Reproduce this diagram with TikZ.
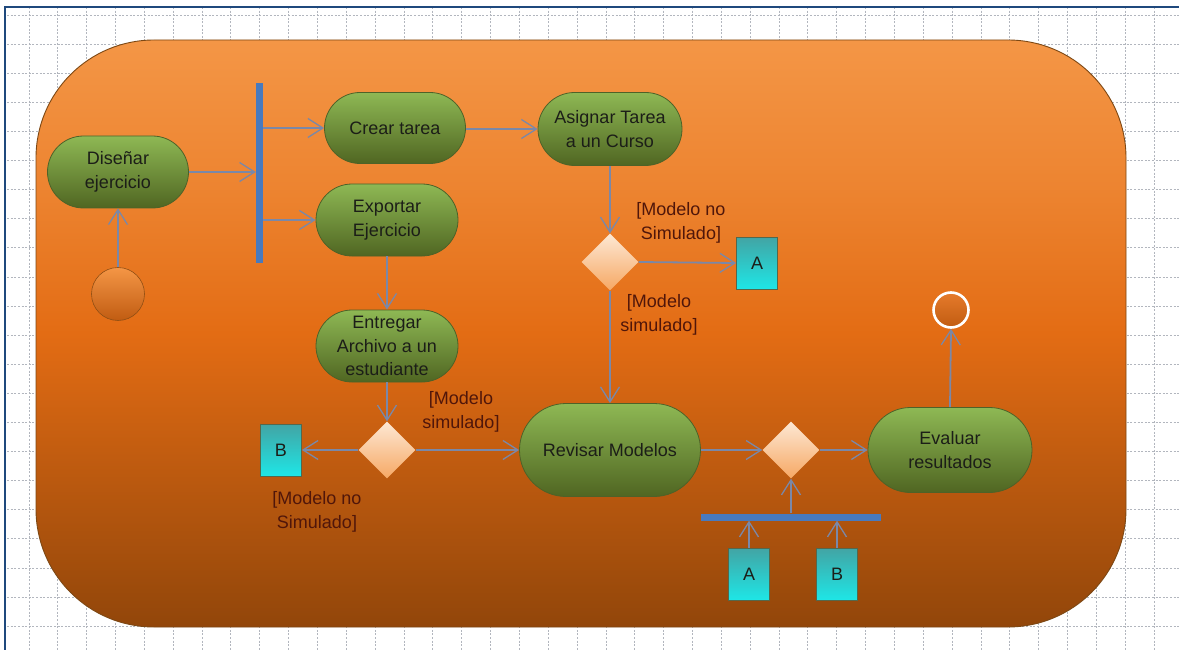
\documentclass[tikz,border=0pt]{standalone}
\usepackage{fontspec}
\setmainfont{Liberation Sans}
\usetikzlibrary{shapes.misc,shapes.geometric,arrows.meta}

\definecolor{frameC}{RGB}{31,73,125}
\definecolor{gridC}{RGB}{178,182,190}
\definecolor{oTop}{RGB}{244,150,70}
\definecolor{oMid}{RGB}{227,108,20}
\definecolor{oBot}{RGB}{146,70,10}
\definecolor{oEdge}{RGB}{125,72,20}
\definecolor{gTop}{RGB}{142,184,84}
\definecolor{gBot}{RGB}{80,102,34}
\definecolor{gEdge}{RGB}{78,98,40}
\definecolor{cTop}{RGB}{66,164,164}
\definecolor{cBot}{RGB}{30,230,230}
\definecolor{cEdge}{RGB}{84,104,76}
\definecolor{dTop}{RGB}{253,232,212}
\definecolor{dBot}{RGB}{246,168,100}
\definecolor{lineC}{RGB}{122,136,168}
\definecolor{barC}{RGB}{72,122,190}
\definecolor{txtC}{RGB}{28,30,24}
\definecolor{labC}{RGB}{80,22,10}

% background swimlane shading: 25bp = bottom edge, 75bp = top edge
\pgfdeclareverticalshading{lanebg}{100bp}{color(0bp)=(oBot); color(25bp)=(oBot);
  color(50bp)=(oMid); color(62bp)=(oTop!55!oMid); color(75bp)=(oTop); color(100bp)=(oTop)}

\tikzset{
  gridline/.style={draw=gridC, line width=0.7pt, dash pattern=on 2pt off 1.6pt},
  action/.style={rounded rectangle, draw=gEdge, line width=0.8pt,
    top color=gTop, bottom color=gBot, inner sep=0pt, align=center,
    text=txtC, font=\fontsize{18}{23.5}\selectfont},
  decision/.style={diamond, aspect=1, minimum size=57pt, inner sep=0pt,
    top color=dTop, bottom color=dBot, draw=none},
  conn/.style={rectangle, draw=cEdge, line width=0.8pt, top color=cTop, bottom color=cBot,
    minimum width=41pt, minimum height=52pt, inner sep=0pt, text=txtC,
    font=\fontsize{18}{22}\selectfont},
  syncbar/.style={rectangle, fill=barC, draw=none, inner sep=0pt},
  guard/.style={align=center, text=labC, font=\fontsize{18}{24}\selectfont, inner sep=0pt},
  flow/.style={draw=lineC, line width=1.8pt,
    -{Straight Barb[length=15pt,width=19pt,line width=1.3pt]}},
}

\begin{document}
\begin{tikzpicture}[x=1pt,y=-1pt]
\useasboundingbox (0,0) rectangle (1179,650);
\fill[white] (0,0) rectangle (1179,650);

% dotted page grid
\begin{scope}
  \clip (5,7) rectangle (1179,650);
  \foreach \i in {0,...,41} \draw[gridline] ({\i*28.85},7) -- ({\i*28.85},650);
  \foreach \j in {0,...,22} \draw[gridline] (0,{15+\j*29.1}) -- (1179,{15+\j*29.1});
\end{scope}

% page frame
\draw[frameC, line width=2.6pt] (5,650) -- (5,7) -- (1179,7);

% activity region
\shade[shading=lanebg, draw=oEdge, line width=0.9pt, rounded corners=118pt]
  (36,40) rectangle (1126,627);

% start and end nodes
\node[circle, minimum size=53pt, inner sep=0pt, draw=oEdge!80!oMid, line width=0.6pt,
  top color=oTop, bottom color=oMid!85!black] (start) at (118,294) {};
\node[circle, minimum size=35pt, inner sep=0pt, draw=white, line width=2.6pt,
  top color=oMid!90!white, bottom color=oMid!85!black] (finish) at (951,310) {};

% actions
\node[action, minimum width=141pt, minimum height=72pt] (dis) at (118,172) {Diseñar\\ejercicio};
\node[action, minimum width=141pt, minimum height=71pt] (crear) at (395,128) {Crear tarea};
\node[action, minimum width=142pt, minimum height=72pt] (exp) at (387,220) {Exportar\\Ejercicio};
\node[action, minimum width=142pt, minimum height=72pt] (ent) at (387,346) {Entregar\\Archivo a un\\estudiante};
\node[action, minimum width=144pt, minimum height=73pt] (asig) at (610,129) {Asignar Tarea\\a un Curso};
\node[action, minimum width=181pt, minimum height=93pt] (rev) at (610,450) {Revisar Modelos};
\node[action, minimum width=164pt, minimum height=85pt] (ev) at (950,450) {Evaluar\\resultados};

% fork and join bars
\node[syncbar, minimum width=7pt, minimum height=180pt] (fork) at (259.5,173) {};
\node[syncbar, minimum width=180pt, minimum height=7pt] (join) at (791,517) {};

% decisions
\node[decision] (d1) at (610,262) {};
\node[decision] (d2) at (387,450) {};
\node[decision] (d3) at (791,450) {};

% connectors A / B
\node[conn] (a1) at (757,263) {A};
\node[conn] (b1) at (281,450) {B};
\node[conn] (a2) at (749,574) {A};
\node[conn] (b2) at (837,574) {B};

% guard labels
\node[guard] (g1) at (681,223) {[Modelo no\\Simulado]};
\node[guard] (g2) at (659,315) {[Modelo\\simulado]};
\node[guard] (g3) at (461,412) {[Modelo\\simulado]};
\node[guard] (g4) at (317,512) {[Modelo no\\Simulado]};

% control flows
\draw[flow] (start) -- (dis);
\draw[flow] (dis.east) -- (dis.east -| fork.west);
\draw[flow] (fork.east |- crear.west) -- (crear.west);
\draw[flow] (fork.east |- exp.west) -- (exp.west);
\draw[flow] (crear.east |- asig.west) -- (asig.west);
\draw[flow] (asig.south) -- (d1.north);
\draw[flow] (d1.east) -- (a1.west);
\draw[flow] (d1.south) -- (rev.north);
\draw[flow] (exp.south) -- (ent.north);
\draw[flow] (ent.south) -- (d2.north);
\draw[flow] (d2.west) -- (b1.east);
\draw[flow] (d2.east) -- (rev.west);
\draw[flow] (rev.east) -- (d3.west);
\draw[flow] (d3.east) -- (ev.west);
\draw[flow] (ev.north) -- (finish.south);
\draw[flow] (join.north -| d3.south) -- (d3.south);
\draw[flow] (a2.north) -- (a2.north |- join.south);
\draw[flow] (b2.north) -- (b2.north |- join.south);
\end{tikzpicture}
\end{document}
